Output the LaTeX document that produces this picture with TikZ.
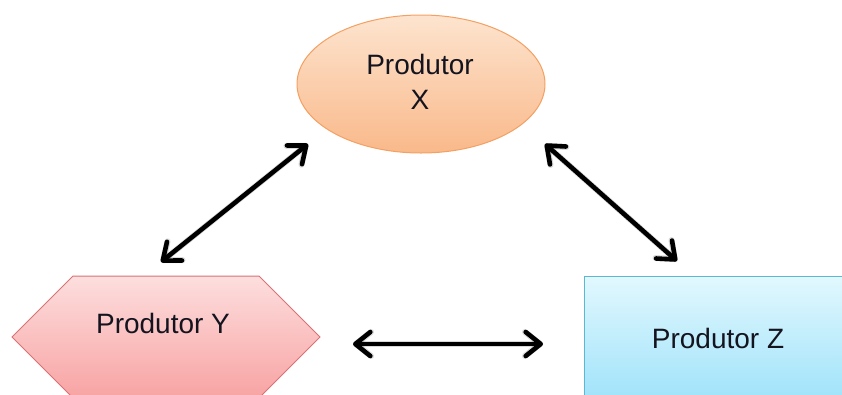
\documentclass[tikz,border=0pt]{standalone}
\usepackage{fontspec}
\setmainfont{Liberation Sans}
\usetikzlibrary{arrows.meta,shapes.geometric,shapes.symbols}

\definecolor{orangeTop}{HTML}{FDE4CF}
\definecolor{orangeBot}{HTML}{F9B98A}
\definecolor{orangeLine}{HTML}{F4A062}
\definecolor{redTop}{HTML}{FDDEDE}
\definecolor{redBot}{HTML}{F8A3A3}
\definecolor{redLine}{HTML}{D87274}
\definecolor{blueTop}{HTML}{E2F8FE}
\definecolor{blueBot}{HTML}{9EE2FA}
\definecolor{blueLine}{HTML}{5AB8D2}
\definecolor{labelInk}{HTML}{14141F}

\tikzset{
  labeltext/.style={font=\fontsize{28}{35}\selectfont, text=labelInk, align=center, inner sep=0pt},
  linkarrow/.style={line width=4.6pt, line cap=round, line join=round,
    {Straight Barb[length=15pt, width=24pt, line cap=round, line join=round]}-{Straight Barb[length=15pt, width=24pt, line cap=round, line join=round]}},
  linkshadow/.style={linkarrow, draw=black, opacity=0.15, line width=6pt},
}

\begin{document}
\begin{tikzpicture}[x=1pt, y=-1pt]
  \useasboundingbox (0,0) rectangle (842,394);
  \clip (0,0) rectangle (842,394);

  % Producer X: shaded ellipse
  \node[ellipse, draw=orangeLine, line width=1pt, top color=orangeTop, bottom color=orangeBot,
        minimum width=248pt, minimum height=138pt, inner sep=0pt] (X) at (421,84) {};
  \node[labeltext] (Xlabel) at (420,82) {Produtor\\X};

  % Producer Y: hexagon with pointed sides
  \node[signal, signal to=east and west, signal pointer angle=90,
        draw=redLine, line width=1pt, top color=redTop, bottom color=redBot,
        minimum width=308pt, minimum height=122pt, inner sep=0pt] (Y) at (166,337) {};
  \node[labeltext] (Ylabel) at (163,323) {Produtor Y};

  % Producer Z: rectangle running past the right edge
  \node[rectangle, draw=blueLine, line width=1pt, top color=blueTop, bottom color=blueBot,
        minimum width=268pt, minimum height=128pt, inner sep=0pt] (Z) at (718,340) {};
  \node[labeltext] (Zlabel) at (718,338) {Produtor Z};

  % arrow end points
  \coordinate (xy1) at (308,144);
  \coordinate (xy2) at (161,262);
  \coordinate (xz1) at (545,144);
  \coordinate (xz2) at (677,261);
  \coordinate (yz1) at (353,344);
  \coordinate (yz2) at (543,344);

  % soft shadows under the arrows
  \begin{scope}[shift={(1.5,2)}]
    \draw[linkshadow] (xy1) -- (xy2);
    \draw[linkshadow] (xz1) -- (xz2);
    \draw[linkshadow] (yz1) -- (yz2);
  \end{scope}

  % two-way links
  \draw[linkarrow] (xy1) -- (xy2);
  \draw[linkarrow] (xz1) -- (xz2);
  \draw[linkarrow] (yz1) -- (yz2);
\end{tikzpicture}
\end{document}
